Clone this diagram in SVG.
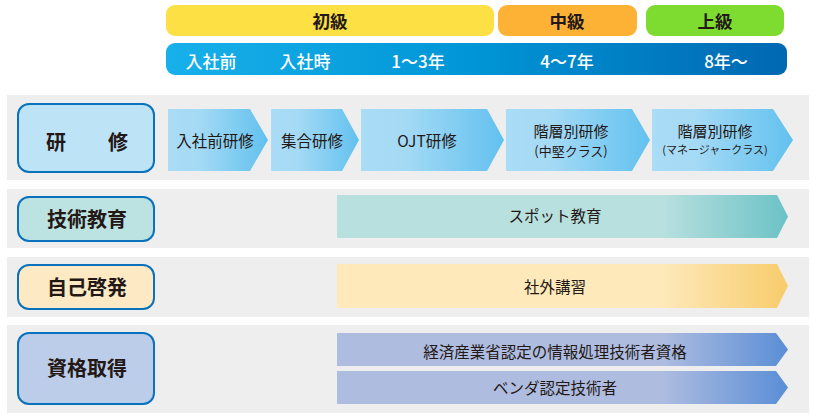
<svg xmlns="http://www.w3.org/2000/svg" width="813" height="418" viewBox="0 0 813 418">
<defs>
<linearGradient id="gBlue" x1="0" y1="0" x2="1" y2="0">
<stop offset="0" stop-color="#18b0ea"/><stop offset="0.5" stop-color="#0095d6"/><stop offset="1" stop-color="#0068b2"/>
</linearGradient>
<linearGradient id="gChev" x1="0" y1="0" x2="1" y2="0">
<stop offset="0" stop-color="#aadcf6"/><stop offset="0.3" stop-color="#a5daf5"/><stop offset="1" stop-color="#62c1ef"/>
</linearGradient>
<linearGradient id="gTeal" x1="337" y1="0" x2="788" y2="0" gradientUnits="userSpaceOnUse">
<stop offset="0" stop-color="#b8e0df"/><stop offset="0.72" stop-color="#b8e0df"/><stop offset="1" stop-color="#6cc2c6"/>
</linearGradient>
<linearGradient id="gOrange" x1="337" y1="0" x2="788" y2="0" gradientUnits="userSpaceOnUse">
<stop offset="0" stop-color="#fde9ba"/><stop offset="0.72" stop-color="#fde9ba"/><stop offset="1" stop-color="#f8cc6c"/>
</linearGradient>
<linearGradient id="gPurple" x1="337" y1="0" x2="788" y2="0" gradientUnits="userSpaceOnUse">
<stop offset="0" stop-color="#aebce0"/><stop offset="0.72" stop-color="#aebce0"/><stop offset="1" stop-color="#5a8ed6"/>
</linearGradient>
<style>
text{font-family:"Noto Sans CJK JP","Noto Sans",sans-serif;text-anchor:middle;dominant-baseline:central;fill:#231815}
.lvl{font-size:17.5px;font-weight:bold}
.yr{font-size:17px;fill:#ffffff;font-weight:500}
.row{fill:#eeeeee}
.cat{stroke:#0a72bc;stroke-width:2}
.catt{font-size:20px;font-weight:bold}
.ct{font-size:15.5px}
.ct2{font-size:15px}
.cs{font-size:13px}
.cxs{font-size:11px}
.bt{font-size:15.5px}
</style>
</defs>

<g id="levels">
<rect x="166" y="5" width="328" height="31" rx="9" fill="#fde044"/>
<text class="lvl" x="330" y="20.5">初級</text>
<rect x="498" y="5" width="139" height="31" rx="9" fill="#fdb236"/>
<text class="lvl" x="567" y="20.5">中級</text>
<rect x="646" y="5" width="138" height="31" rx="9" fill="#7edb30"/>
<text class="lvl" x="715" y="20.5">上級</text>
</g>

<g id="years">
<rect x="166" y="43" width="621" height="32" rx="9" fill="url(#gBlue)"/>
<text class="yr" x="211" y="60">入社前</text>
<text class="yr" x="305" y="60">入社時</text>
<text class="yr" x="418" y="60">1〜3年</text>
<text class="yr" x="567" y="60">4〜7年</text>
<text class="yr" x="726" y="60">8年〜</text>
</g>

<g id="rows">
<rect class="row" x="7" y="95" width="802" height="85"/>
<rect class="row" x="7" y="189" width="802" height="59"/>
<rect class="row" x="7" y="257" width="802" height="60"/>
<rect class="row" x="7" y="325" width="802" height="88"/>
</g>

<g id="cat-kenshu">
<rect class="cat" x="18" y="104" width="136" height="68" rx="11" fill="#bde3f7"/>
<text class="catt" x="56" y="141">研</text>
<text class="catt" x="118" y="141">修</text>
</g>
<g id="cat-gijutsu">
<rect class="cat" x="18" y="197" width="136" height="44" rx="11" fill="#bde2e2"/>
<text class="catt" x="87" y="218">技術教育</text>
</g>
<g id="cat-jiko">
<rect class="cat" x="18" y="265" width="136" height="44" rx="11" fill="#fde9c3"/>
<text class="catt" x="87" y="286">自己啓発</text>
</g>
<g id="cat-shikaku">
<rect class="cat" x="18" y="333" width="136" height="71" rx="11" fill="#bbcde8"/>
<text class="catt" x="87" y="367">資格取得</text>
</g>

<g id="chev-1">
<polygon points="168,109 250,109 268,140 250,171 168,171" fill="url(#gChev)"/>
<text class="ct" x="215" y="140">入社前研修</text>
</g>
<g id="chev-2">
<polygon points="271,109 342,109 359,140 342,171 271,171" fill="url(#gChev)"/>
<text class="ct" x="312" y="140">集合研修</text>
</g>
<g id="chev-3">
<polygon points="361,109 487,109 504,140 487,171 361,171" fill="url(#gChev)"/>
<text class="ct" x="427" y="140">OJT研修</text>
</g>
<g id="chev-4">
<polygon points="506,109 632,109 650,140 632,171 506,171" fill="url(#gChev)"/>
<text class="ct2" x="571" y="130">階層別研修</text>
<text class="cs" x="571" y="150">(中堅クラス)</text>
</g>
<g id="chev-5">
<polygon points="652,109 773,109 793,140 773,171 652,171" fill="url(#gChev)"/>
<text class="ct2" x="715" y="130">階層別研修</text>
<text class="cxs" x="715" y="149">(マネージャークラス)</text>
</g>

<g id="bar-spot">
<polygon points="337,195 777,195 788,216.5 777,238 337,238" fill="url(#gTeal)"/>
<text class="bt" x="555" y="215">スポット教育</text>
</g>
<g id="bar-shagai">
<polygon points="337,264 777,264 788,286 777,308 337,308" fill="url(#gOrange)"/>
<text class="bt" x="555" y="286">社外講習</text>
</g>
<g id="bar-joho">
<polygon points="337,333 776,333 788,349.5 776,366 337,366" fill="url(#gPurple)"/>
<text class="bt" x="555" y="351">経済産業省認定の情報処理技術者資格</text>
</g>
<g id="bar-vendor">
<polygon points="337,371 776,371 788,387.5 776,404 337,404" fill="url(#gPurple)"/>
<text class="bt" x="555" y="387">ベンダ認定技術者</text>
</g>

<g id="connectors"></g>
</svg>
